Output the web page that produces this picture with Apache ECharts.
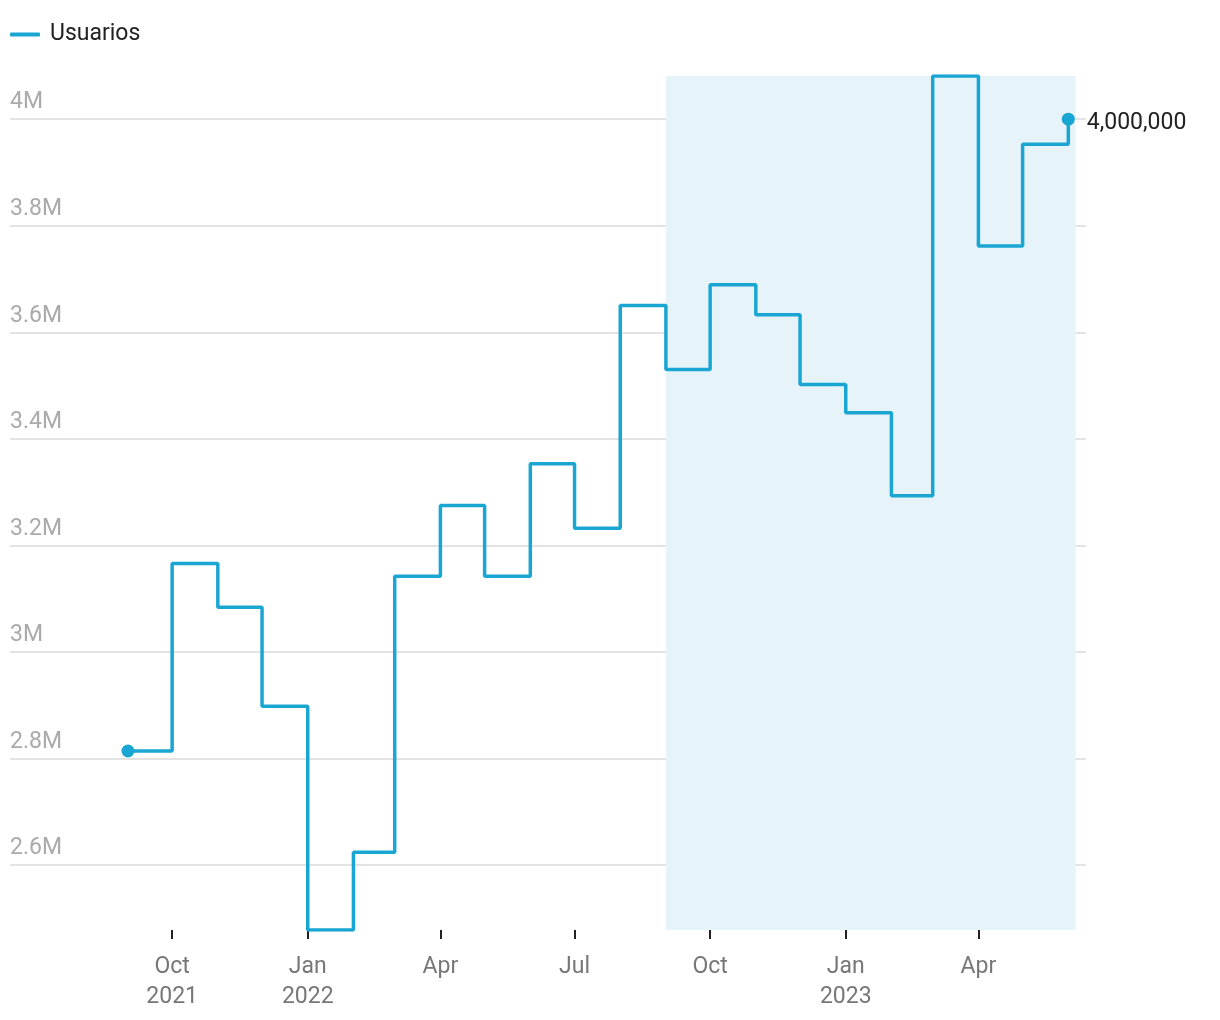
<!DOCTYPE html>
<html>
<head>
<meta charset="utf-8">
<script src="https://cdn.jsdelivr.net/npm/echarts@6/dist/echarts.min.js"></script>
<style>
  html, body { margin: 0; padding: 0; background: #fff; }
  #chart { width: 1220px; height: 1020px; }
</style>
</head>
<body>
<div id="chart"></div>
<script>
// monthly values (first of month)
const months = [
  '2021-09-01', '2021-10-01', '2021-11-01', '2021-12-01',
  '2022-01-01', '2022-02-01', '2022-03-01', '2022-04-01',
  '2022-05-01', '2022-06-01', '2022-07-01', '2022-08-01',
  '2022-09-01', '2022-10-01', '2022-11-01', '2022-12-01',
  '2023-01-01', '2023-02-01', '2023-03-01', '2023-04-01',
  '2023-05-01', '2023-06-01'
]
const usuarios = [
  2814000, 3166000, 3084000, 2898000,
  2478000, 2624000, 3142000, 3275000,
  3142000, 3353000, 3232000, 3650000,
  3530000, 3689000, 3633000, 3502000,
  3449000, 3293000, 4081000, 3762000,
  3953000, 4000000
]
const yTicks = [2600000, 2800000, 3000000, 3200000, 3400000, 3600000, 3800000, 4000000]
const xTicks = ['2021-10-01', '2022-01-01', '2022-04-01', '2022-07-01', '2022-10-01', '2023-01-01', '2023-04-01']
const monthNames = ['Jan', 'Feb', 'Mar', 'Apr', 'May', 'Jun', 'Jul', 'Aug', 'Sep', 'Oct', 'Nov', 'Dec']
const xRange = ['2021-06-13', '2023-06-13']
const highlight = ['2022-09-01', '2023-06-06']

const ts = d => new Date(d + 'T00:00:00').getTime()

const lineColor = '#1aa6d3'
const lastIdx = usuarios.length - 1
const xTickValues = xTicks.map(ts)

const chart = echarts.init(document.getElementById('chart'))

const option = {
  animation: false,
  textStyle: { fontFamily: 'Roboto' },
  legend: {
    left: 10,
    top: 23,
    padding: 0,
    icon: 'roundRect',
    itemWidth: 30,
    itemHeight: 4,
    textStyle: { fontSize: 23, color: '#222', padding: [0, 0, 0, 5] },
    data: ['Usuarios']
  },
  grid: {
    left: 10,
    right: 134,
    top: 76,
    bottom: 90
  },
  xAxis: {
    type: 'value',
    min: ts(xRange[0]),
    max: ts(xRange[1]),
    axisLine: { show: false },
    splitLine: { show: false },
    axisTick: {
      show: true,
      length: 9,
      lineStyle: { color: '#222', width: 2 },
      customValues: xTickValues
    },
    axisLabel: {
      fontSize: 23,
      color: '#777',
      lineHeight: 30,
      margin: 22,
      customValues: xTickValues,
      formatter: value => {
        const d = new Date(value)
        const m = monthNames[d.getMonth()]
        if (d.getMonth() === 0 || value === xTickValues[0]) return m + '\n' + d.getFullYear()
        return m
      }
    }
  },
  yAxis: {
    type: 'value',
    min: 'dataMin',
    max: 'dataMax',
    axisLine: { show: false },
    axisTick: { show: false, customValues: yTicks },
    splitLine: {
      show: true,
      lineStyle: { color: '#e3e3e3', width: 2 },
      customValues: yTicks
    },
    axisLabel: {
      inside: true,
      margin: 0,
      fontSize: 23,
      color: '#aaa',
      verticalAlign: 'bottom',
      padding: [0, 0, 5, 0],
      customValues: yTicks,
      formatter: v => (v / 1000000) + 'M'
    }
  },
  series: [
    {
      name: 'Usuarios',
      type: 'line',
      step: 'end',
      color: lineColor,
      lineStyle: { width: 3.5, color: lineColor },
      showAllSymbol: true,
      symbol: (val, params) => (params.dataIndex === 0 || params.dataIndex === lastIdx) ? 'circle' : 'none',
      symbolSize: 13,
      itemStyle: { color: lineColor },
      data: months.map((m, i) => ({
        value: [ts(m), usuarios[i]],
        label: i === lastIdx ? {
          show: true,
          position: 'right',
          distance: 12,
          offset: [0, 4],
          fontSize: 23,
          color: '#222',
          formatter: p => p.value[1].toLocaleString('en-US')
        } : { show: false }
      })),
      markArea: {
        silent: true,
        itemStyle: { color: '#e6f3f9' },
        data: [[{ xAxis: ts(highlight[0]) }, { xAxis: ts(highlight[1]) }]]
      }
    }
  ]
}

chart.setOption(option)
</script>
</body>
</html>
